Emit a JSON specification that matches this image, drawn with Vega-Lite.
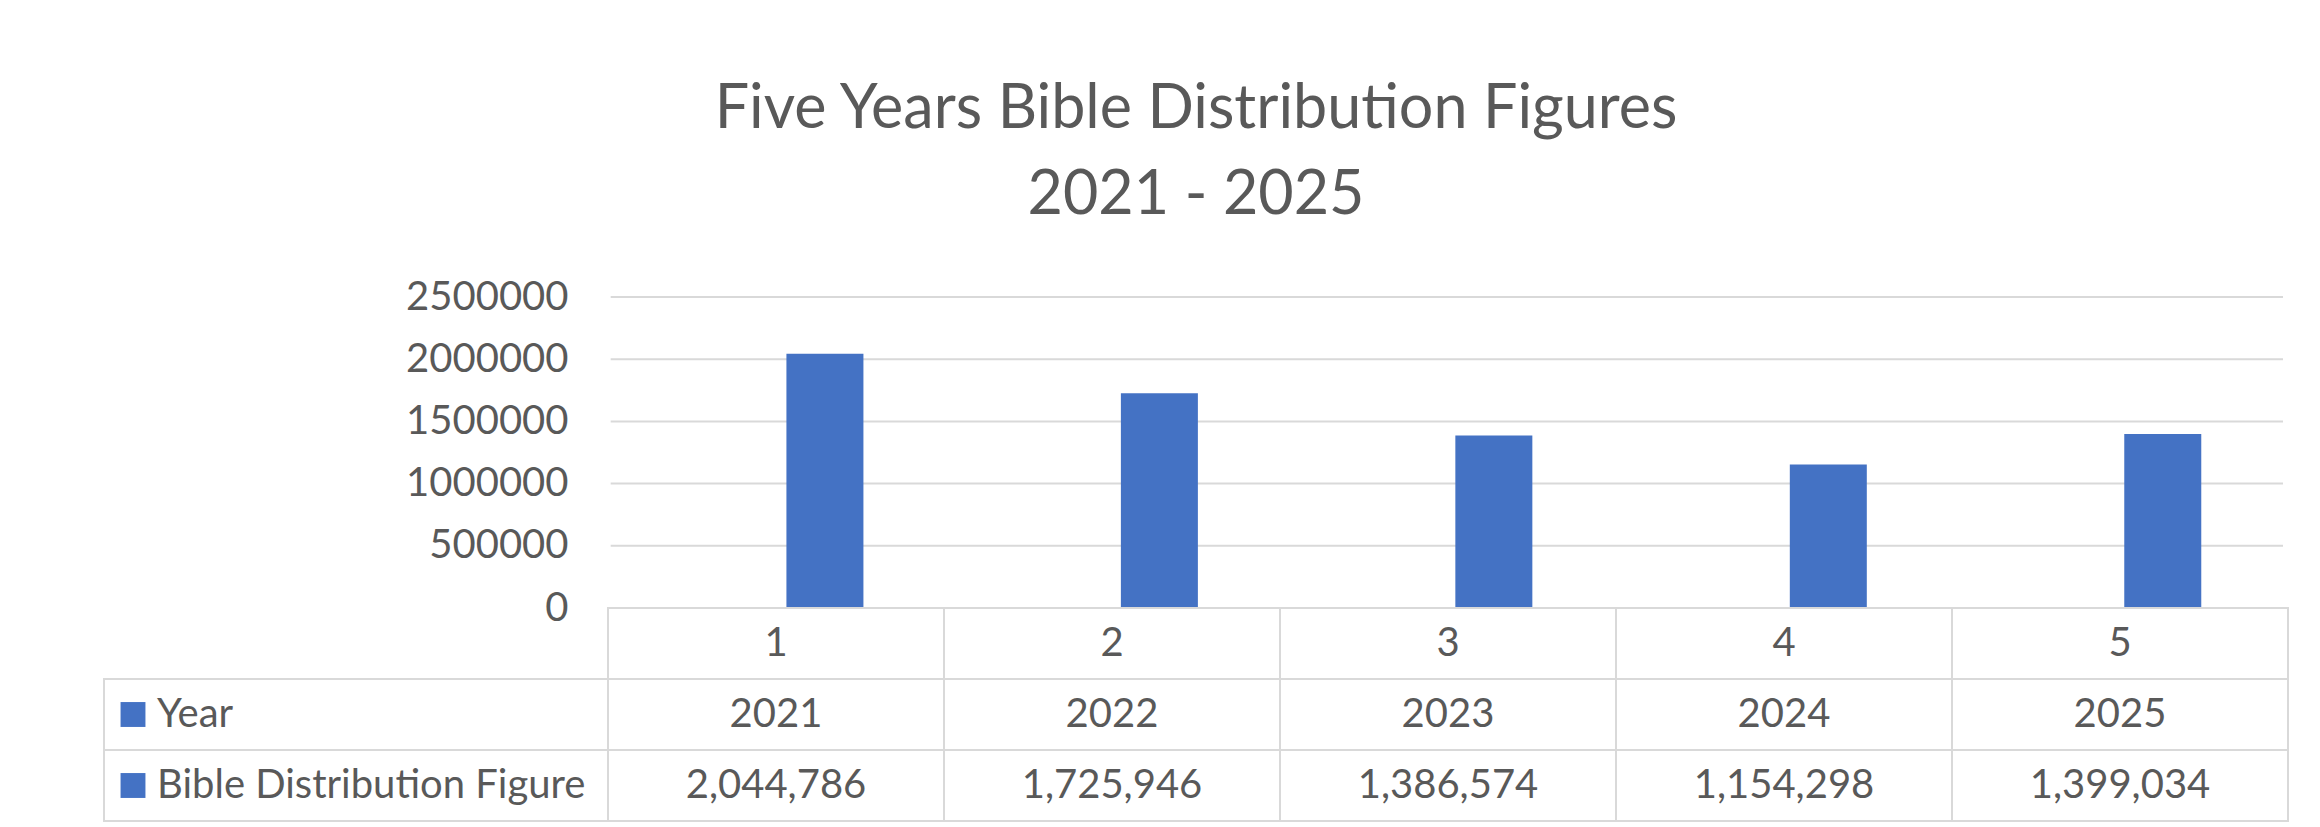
{
  "$schema": "https://vega.github.io/schema/vega-lite/v6.json",
  "autosize": {"type": "pad"},
  "padding": {"left": 103, "top": 79, "right": 31, "bottom": 8},
  "background": "white",
  "title": {
    "text": ["Five Years Bible Distribution Figures", "2021 - 2025"],
    "font": "Lato",
    "fontSize": 61,
    "fontWeight": "normal",
    "lineHeight": 86,
    "color": "#595959",
    "anchor": "middle",
    "dx": 0,
    "offset": 50
  },
  "config": {
    "view": {"stroke": null},
    "font": "Lato",
    "text": {"font": "Lato", "color": "#595959", "fontSize": 40}
  },
  "datasets": {
    "bible": [
      {"col": 1, "year": "2021", "value": 2044786},
      {"col": 2, "year": "2022", "value": 1725946},
      {"col": 3, "year": "2023", "value": 1386574},
      {"col": 4, "year": "2024", "value": 1154298},
      {"col": 5, "year": "2025", "value": 1399034}
    ],
    "grid": [{"v": 0}, {"v": 500000}, {"v": 1000000}, {"v": 1500000}, {"v": 2000000}, {"v": 2500000}],
    "rows": [
      {"row": "Year", "label": "Year"},
      {"row": "Bible", "label": "Bible Distribution Figure"}
    ]
  },
  "spacing": 0,
  "bounds": "flush",
  "vconcat": [
    {
      "width": 2184,
      "height": 311,
      "layer": [
        {
          "data": {"name": "grid"},
          "mark": {"type": "rule", "color": "#d9d9d9", "strokeWidth": 2},
          "encoding": {
            "y": {
              "field": "v",
              "type": "quantitative",
              "scale": {"domain": [0, 2500000], "nice": false},
              "axis": {
                "values": [0, 500000, 1000000, 1500000, 2000000, 2500000],
                "format": "d",
                "offset": -503,
                "domain": false,
                "ticks": false,
                "grid": false,
                "labelPadding": 39,
                "labelFont": "Lato",
                "labelFontSize": 40,
                "labelColor": "#595959",
                "title": null
              }
            },
            "x": {"datum": 0.5, "type": "quantitative", "scale": {"domain": [-1, 5.5], "nice": false, "zero": false}, "axis": null},
            "x2": {"datum": 5.5}
          }
        },
        {
          "data": {"name": "bible"},
          "mark": {"type": "bar", "color": "#4472C4", "width": 77, "xOffset": 47},
          "encoding": {
            "x": {"field": "col", "type": "quantitative"},
            "y": {"field": "value", "type": "quantitative"}
          }
        }
      ]
    },
    {
      "width": 2184,
      "height": 213,
      "layer": [
        {
          "data": {"name": "bible"},
          "mark": {"type": "rect", "fill": "white", "stroke": "#d9d9d9", "strokeWidth": 2, "xOffset": -168, "x2Offset": 168},
          "encoding": {
            "x": {"field": "col", "type": "quantitative", "scale": {"domain": [-1, 5.5], "nice": false, "zero": false}, "axis": null},
            "x2": {"field": "col"},
            "y": {"datum": "header", "type": "nominal", "scale": {"domain": ["header", "Year", "Bible"], "paddingInner": 0, "paddingOuter": 0}, "axis": null}
          }
        },
        {
          "data": {"name": "bible"},
          "mark": {"type": "rect", "fill": "white", "stroke": "#d9d9d9", "strokeWidth": 2, "xOffset": -168, "x2Offset": 168},
          "encoding": {
            "x": {"field": "col", "type": "quantitative"},
            "x2": {"field": "col"},
            "y": {"datum": "Year", "type": "nominal"}
          }
        },
        {
          "data": {"name": "bible"},
          "mark": {"type": "rect", "fill": "white", "stroke": "#d9d9d9", "strokeWidth": 2, "xOffset": -168, "x2Offset": 168},
          "encoding": {
            "x": {"field": "col", "type": "quantitative"},
            "x2": {"field": "col"},
            "y": {"datum": "Bible", "type": "nominal"}
          }
        },
        {
          "data": {"name": "rows"},
          "mark": {"type": "rect", "fill": "white", "stroke": "#d9d9d9", "strokeWidth": 2},
          "encoding": {
            "x": {"datum": -1, "type": "quantitative"},
            "x2": {"datum": 0.5},
            "y": {"field": "row", "type": "nominal"}
          }
        },
        {
          "data": {"name": "bible"},
          "mark": {"type": "text"},
          "encoding": {
            "x": {"field": "col", "type": "quantitative"},
            "y": {"datum": "header", "type": "nominal"},
            "text": {"field": "col", "type": "ordinal"}
          }
        },
        {
          "data": {"name": "bible"},
          "mark": {"type": "text"},
          "encoding": {
            "x": {"field": "col", "type": "quantitative"},
            "y": {"datum": "Year", "type": "nominal"},
            "text": {"field": "year", "type": "nominal"}
          }
        },
        {
          "data": {"name": "bible"},
          "mark": {"type": "text"},
          "encoding": {
            "x": {"field": "col", "type": "quantitative"},
            "y": {"datum": "Bible", "type": "nominal"},
            "text": {"field": "value", "type": "quantitative", "format": ","}
          }
        },
        {
          "data": {"name": "rows"},
          "mark": {"type": "text", "align": "left", "dx": 53},
          "encoding": {
            "x": {"datum": -1, "type": "quantitative"},
            "y": {"field": "row", "type": "nominal"},
            "text": {"field": "label", "type": "nominal"}
          }
        },
        {
          "data": {"name": "rows"},
          "mark": {"type": "point", "shape": "square", "filled": true, "opacity": 1, "size": 620, "color": "#4472C4", "xOffset": 29},
          "encoding": {
            "x": {"datum": -1, "type": "quantitative"},
            "y": {"field": "row", "type": "nominal"}
          }
        }
      ]
    }
  ]
}
